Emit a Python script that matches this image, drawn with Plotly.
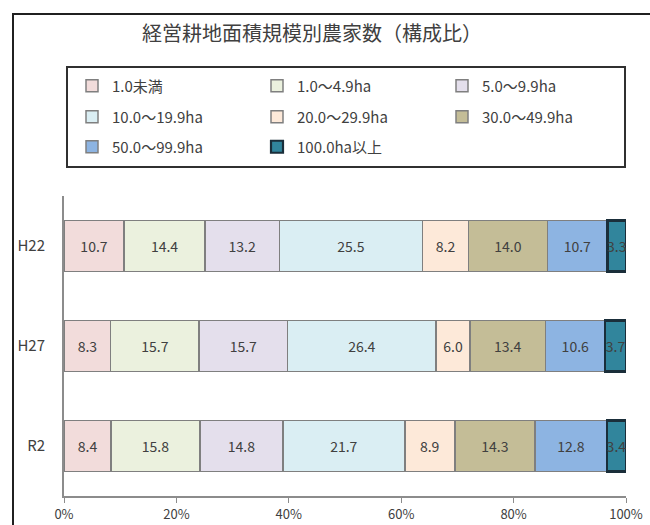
import plotly.graph_objects as go

years = ["H22", "H27", "R2"]
classes = ["1.0未満", "1.0～4.9ha", "5.0～9.9ha", "10.0～19.9ha",
           "20.0～29.9ha", "30.0～49.9ha", "50.0～99.9ha", "100.0ha以上"]
values = {
    "1.0未満":      [10.7, 8.3, 8.4],
    "1.0～4.9ha":   [14.4, 15.7, 15.8],
    "5.0～9.9ha":   [13.2, 15.7, 14.8],
    "10.0～19.9ha": [25.5, 26.4, 21.7],
    "20.0～29.9ha": [8.2, 6.0, 8.9],
    "30.0～49.9ha": [14.0, 13.4, 14.3],
    "50.0～99.9ha": [10.7, 10.6, 12.8],
    "100.0ha以上":  [3.3, 3.7, 3.4],
}
colors = ["#f2dcdb", "#ebf1de", "#e4dfec", "#daeef3",
          "#fde9d9", "#c4bd97", "#8db4e2", "#31859c"]
line_colors = ["#7f7f7f"] * 7 + ["#1a2e3a"]
line_widths = [1.5] * 7 + [2.2]
x_ticks = [0, 20, 40, 60, 80, 100]
x_ticktext = ["0%", "20%", "40%", "60%", "80%", "100%"]

FONT = "Noto Sans CJK JP"
TXT = "#404040"

# plot area geometry (px) used for paper-coordinate conversions
L, R, T, B = 64, 626, 196, 496
def px_x(x): return (x - L) / (R - L)
def px_y(y): return (B - y) / (B - T)

legend_rows = [86, 117, 147]
legend_names = ["legend", "legend2", "legend3"]

fig = go.Figure()
for i, c in enumerate(classes):
    fig.add_trace(go.Bar(
        name=c, y=years, x=values[c], orientation="h",
        text=values[c],
        marker=dict(color=colors[i], line=dict(color=line_colors[i], width=line_widths[i])),
        texttemplate="%{text:.1f}", textposition="inside", insidetextanchor="middle",
        constraintext="none",
        textfont=dict(family=FONT, size=14, color=TXT),
        hoverinfo="name+text",
        legend=legend_names[i // 3],
    ))

leg_common = dict(orientation="h", xanchor="left", yanchor="middle",
                  entrywidth=140, entrywidthmode="pixels", traceorder="normal",
                  borderwidth=0, bgcolor="rgba(0,0,0,0)",
                  font=dict(family=FONT, size=15, color=TXT))

fig.update_layout(
    width=650, height=525,
    barmode="stack", barnorm="percent", bargap=0.49,
    paper_bgcolor="white", plot_bgcolor="white",
    margin=dict(l=L, r=650 - R, t=T, b=525 - B, autoexpand=False),
    font=dict(family=FONT, color=TXT),
    title=dict(text="経営耕地面積規模別農家数（構成比）", x=312/650, xanchor="center",
               y=1 - 34/525, yanchor="middle", xref="container", yref="container",
               font=dict(family=FONT, size=20, color=TXT)),
    legend=dict(x=px_x(72), y=px_y(legend_rows[0]), **leg_common),
    legend2=dict(x=px_x(72), y=px_y(legend_rows[1]), **leg_common),
    legend3=dict(x=px_x(72), y=px_y(legend_rows[2]), **leg_common),
    xaxis=dict(range=[0, 100], tickvals=x_ticks, ticktext=x_ticktext, showgrid=False,
               zeroline=False, showline=True, linecolor="#8c8c8c", linewidth=2,
               ticks="outside", ticklen=5, tickcolor="#8c8c8c", tickwidth=1,
               tickfont=dict(family=FONT, size=13, color=TXT), fixedrange=True),
    yaxis=dict(autorange="reversed", showgrid=False, zeroline=False, showline=True,
               linecolor="#8c8c8c", linewidth=2, ticks="", ticklabelstandoff=14,
               tickfont=dict(family=FONT, size=15, color=TXT), fixedrange=True,
               categoryorder="array", categoryarray=years),
    shapes=[
        dict(type="rect", xref="paper", yref="paper",
             x0=px_x(13), x1=1.6, y0=-0.6, y1=px_y(14),
             line=dict(color="#202020", width=2), fillcolor="rgba(0,0,0,0)",
             layer="below"),
        dict(type="rect", xref="paper", yref="paper",
             x0=px_x(67), x1=px_x(625), y0=px_y(167), y1=px_y(67),
             line=dict(color="#303030", width=2), fillcolor="rgba(0,0,0,0)",
             layer="below"),
    ],
)
fig.update_traces(cliponaxis=False)
fig.write_html("out.html")
